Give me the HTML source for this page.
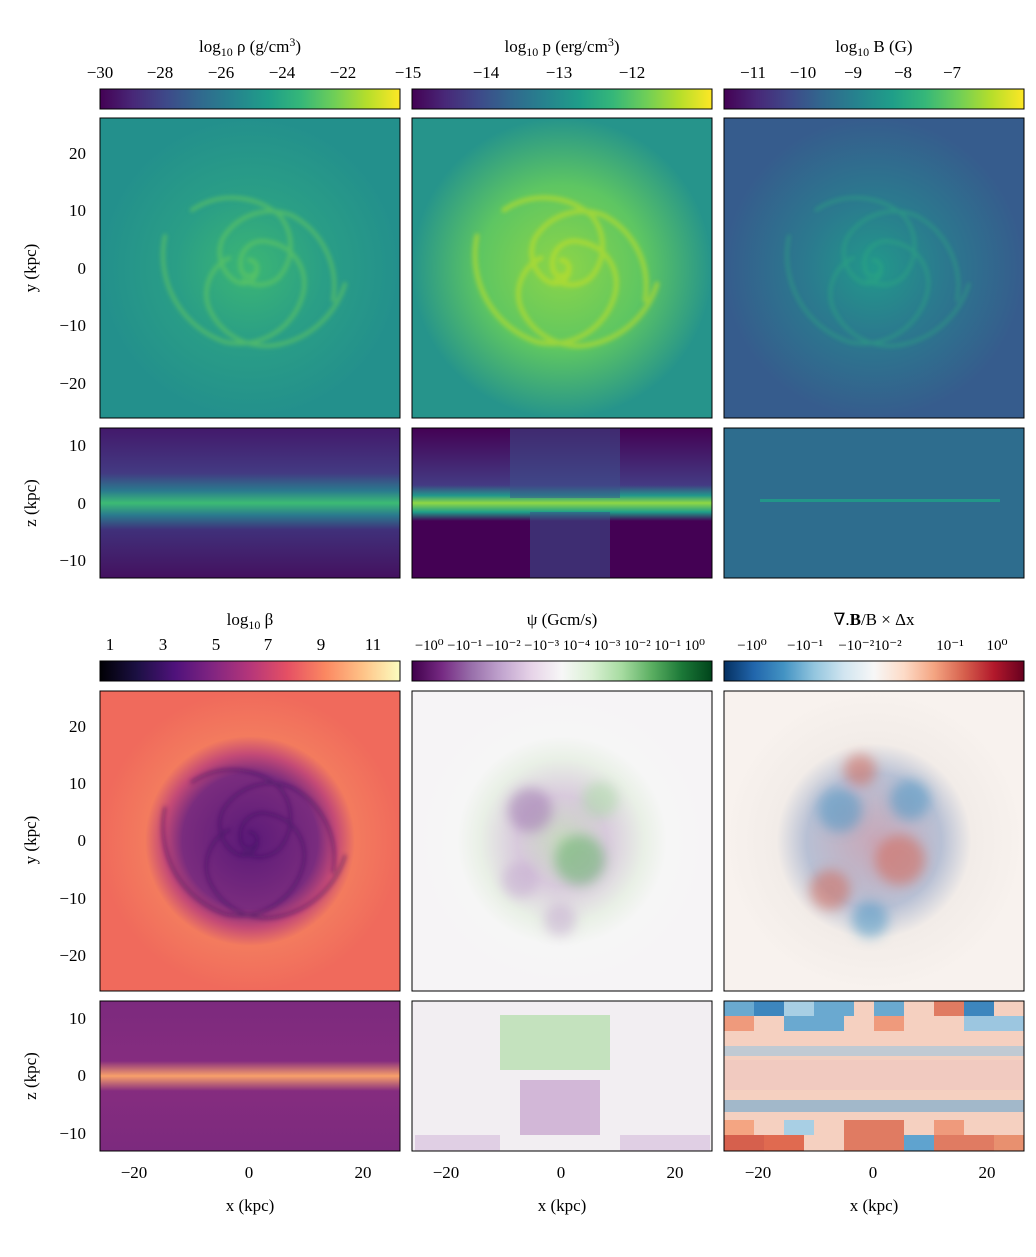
<!DOCTYPE html>
<html><head><meta charset="utf-8"><style>
html,body{margin:0;padding:0;background:#fff;}
svg text{font-family:"Liberation Serif","DejaVu Serif",serif;fill:#000;}
</style></head><body>
<svg width="1036" height="1252" viewBox="0 0 1036 1252" xmlns="http://www.w3.org/2000/svg">
<defs>
<filter id="bl" x="-20%" y="-20%" width="140%" height="140%"><feGaussianBlur stdDeviation="2"/></filter>
<filter id="bl6" x="-30%" y="-30%" width="160%" height="160%"><feGaussianBlur stdDeviation="6"/></filter>
<linearGradient id="vir" x1="0" x2="1"><stop offset="0" stop-color="#440154"/><stop offset=".11" stop-color="#482878"/><stop offset=".22" stop-color="#3e4989"/><stop offset=".33" stop-color="#31688e"/><stop offset=".44" stop-color="#26828e"/><stop offset=".56" stop-color="#1f9e89"/><stop offset=".67" stop-color="#35b779"/><stop offset=".78" stop-color="#6ece58"/><stop offset=".89" stop-color="#b5de2b"/><stop offset="1" stop-color="#fde725"/></linearGradient>
<linearGradient id="mag" x1="0" x2="1"><stop offset="0" stop-color="#000004"/><stop offset=".125" stop-color="#1c1044"/><stop offset=".25" stop-color="#4f127b"/><stop offset=".375" stop-color="#812581"/><stop offset=".5" stop-color="#b5367a"/><stop offset=".625" stop-color="#e55064"/><stop offset=".75" stop-color="#fb8761"/><stop offset=".875" stop-color="#fec287"/><stop offset="1" stop-color="#fcfdbf"/></linearGradient>
<linearGradient id="prgn" x1="0" x2="1"><stop offset="0" stop-color="#40004b"/><stop offset=".1" stop-color="#762a83"/><stop offset=".2" stop-color="#9970ab"/><stop offset=".3" stop-color="#c2a5cf"/><stop offset=".4" stop-color="#e7d4e8"/><stop offset=".5" stop-color="#f7f7f7"/><stop offset=".6" stop-color="#d9f0d3"/><stop offset=".7" stop-color="#a6dba0"/><stop offset=".8" stop-color="#5aae61"/><stop offset=".9" stop-color="#1b7837"/><stop offset="1" stop-color="#00441b"/></linearGradient>
<linearGradient id="rdbu" x1="0" x2="1"><stop offset="0" stop-color="#053061"/><stop offset=".1" stop-color="#2166ac"/><stop offset=".2" stop-color="#4393c3"/><stop offset=".3" stop-color="#92c5de"/><stop offset=".4" stop-color="#d1e5f0"/><stop offset=".5" stop-color="#f7f7f7"/><stop offset=".6" stop-color="#fddbc7"/><stop offset=".7" stop-color="#f4a582"/><stop offset=".8" stop-color="#d6604d"/><stop offset=".9" stop-color="#b2182b"/><stop offset="1" stop-color="#67001f"/></linearGradient>
<radialGradient id="g1"><stop offset="0" stop-color="#3cb674"/><stop offset=".5" stop-color="#2a9e86"/><stop offset="1" stop-color="#23908c"/></radialGradient>
<radialGradient id="g2"><stop offset="0" stop-color="#8cd548"/><stop offset=".55" stop-color="#5ec662"/><stop offset="1" stop-color="#26948b"/></radialGradient>
<radialGradient id="g3"><stop offset="0" stop-color="#22988a"/><stop offset=".45" stop-color="#2b7a8e"/><stop offset="1" stop-color="#365c8d"/></radialGradient>
<radialGradient id="g4"><stop offset="0" stop-color="#5c1a78"/><stop offset=".45" stop-color="#7a2c7e"/><stop offset=".58" stop-color="#c44a76"/><stop offset=".7" stop-color="#f37b5e"/><stop offset="1" stop-color="#f06a5c"/></radialGradient>
<radialGradient id="g5"><stop offset="0" stop-color="#c8d8c0"/><stop offset=".3" stop-color="#d8cadc"/><stop offset=".55" stop-color="#e9f0e6"/><stop offset=".7" stop-color="#f6f6f6"/><stop offset="1" stop-color="#f6f4f6"/></radialGradient>
<radialGradient id="g6"><stop offset="0" stop-color="#c8a8b8"/><stop offset=".45" stop-color="#b8c0d4"/><stop offset=".65" stop-color="#f2ece8"/><stop offset="1" stop-color="#f8f2ee"/></radialGradient>
<linearGradient id="e1" x1="0" y1="0" x2="0" y2="1"><stop offset="0" stop-color="#43196b"/><stop offset=".3" stop-color="#433a82"/><stop offset=".42" stop-color="#2a7b8e"/><stop offset=".5" stop-color="#3cbb74"/><stop offset=".58" stop-color="#2a7b8e"/><stop offset=".68" stop-color="#40307a"/><stop offset="1" stop-color="#44115f"/></linearGradient>
<linearGradient id="e2" x1="0" y1="0" x2="0" y2="1"><stop offset="0" stop-color="#440154"/><stop offset=".38" stop-color="#443a83"/><stop offset=".45" stop-color="#22978b"/><stop offset=".5" stop-color="#8fd744"/><stop offset=".56" stop-color="#1f9e89"/><stop offset=".62" stop-color="#440154"/><stop offset="1" stop-color="#440154"/></linearGradient>
<linearGradient id="e4" x1="0" y1="0" x2="0" y2="1"><stop offset="0" stop-color="#7c2a7e"/><stop offset=".4" stop-color="#852c7f"/><stop offset=".5" stop-color="#f8a06a"/><stop offset=".6" stop-color="#852c7f"/><stop offset="1" stop-color="#7c2a7e"/></linearGradient>
<g id="spir" fill="none" stroke-linecap="round">
<path d="M0 0 m0 -8 a8 8 0 1 1 -8 8 a22 22 0 0 1 28 -26 a42 42 0 0 1 34 52 a66 66 0 0 1 -78 48 a92 92 0 0 1 -60 -106"/>
<path d="M0 0 m8 0 a14 14 0 0 1 -20 14 a34 34 0 0 1 -14 -44 a56 56 0 0 1 70 -22 a80 80 0 0 1 40 84"/>
<path d="M0 0 m-5 12 a28 28 0 0 0 36 -4 a48 48 0 0 0 0 -60 a72 72 0 0 0 -88 -6"/>
<path d="M0 0 m-20 -10 a40 40 0 0 0 -20 50 a62 62 0 0 0 72 36 a88 88 0 0 0 64 -60"/>
</g>
</defs>

<!-- top colorbars -->
<rect x="100" y="89" width="300" height="20" fill="url(#vir)" stroke="#000"/>
<rect x="412" y="89" width="300" height="20" fill="url(#vir)" stroke="#000"/>
<rect x="724" y="89" width="300" height="20" fill="url(#vir)" stroke="#000"/>
<g font-size="17" text-anchor="middle">
<text x="250" y="52">log<tspan font-size="12" dy="4">10</tspan><tspan dy="-4"> ρ (g/cm</tspan><tspan font-size="12" dy="-6">3</tspan><tspan dy="6">)</tspan></text>
<text x="562" y="52">log<tspan font-size="12" dy="4">10</tspan><tspan dy="-4"> p (erg/cm</tspan><tspan font-size="12" dy="-6">3</tspan><tspan dy="6">)</tspan></text>
<text x="874" y="52">log<tspan font-size="12" dy="4">10</tspan><tspan dy="-4"> B (G)</tspan></text>
<text x="100" y="78">−30</text><text x="160" y="78">−28</text><text x="221" y="78">−26</text><text x="282" y="78">−24</text><text x="343" y="78">−22</text><text x="408" y="78">−15</text>
<text x="486" y="78">−14</text><text x="559" y="78">−13</text><text x="632" y="78">−12</text>
<text x="753" y="78">−11</text><text x="803" y="78">−10</text><text x="853" y="78">−9</text><text x="903" y="78">−8</text><text x="952" y="78">−7</text>
</g>

<!-- top face-on -->
<rect x="100" y="118" width="300" height="300" fill="url(#g1)"/>
<rect x="412" y="118" width="300" height="300" fill="url(#g2)"/>
<rect x="724" y="118" width="300" height="300" fill="url(#g3)"/>
<use href="#spir" x="249" y="268" stroke="#6ccd5a" stroke-width="4" opacity=".55" filter="url(#bl)"/>
<use href="#spir" x="561" y="268" stroke="#c8e020" stroke-width="5" opacity=".55" filter="url(#bl)"/>
<use href="#spir" x="873" y="268" stroke="#2fb37b" stroke-width="3" opacity=".45" filter="url(#bl)"/>
<rect x="100" y="118" width="300" height="300" fill="none" stroke="#000"/>
<rect x="412" y="118" width="300" height="300" fill="none" stroke="#000"/>
<rect x="724" y="118" width="300" height="300" fill="none" stroke="#000"/>

<!-- top edge-on -->
<rect x="100" y="428" width="300" height="150" fill="url(#e1)" stroke="#000"/>
<rect x="412" y="428" width="300" height="150" fill="url(#e2)"/>
<rect x="510" y="428" width="110" height="70" fill="#3b528b" opacity=".5"/>
<rect x="530" y="512" width="80" height="66" fill="#3b528b" opacity=".55"/>
<rect x="412" y="428" width="300" height="150" fill="none" stroke="#000"/>
<rect x="724" y="428" width="300" height="150" fill="#2e6d8e" stroke="#000"/>
<rect x="760" y="499" width="240" height="3" fill="#1fa088" opacity=".8"/>
<g font-size="17" text-anchor="end">
<text x="86" y="159">20</text><text x="86" y="216">10</text><text x="86" y="274">0</text><text x="86" y="331">−10</text><text x="86" y="389">−20</text>
<text x="86" y="451">10</text><text x="86" y="509">0</text><text x="86" y="566">−10</text>
<text x="86" y="732">20</text><text x="86" y="789">10</text><text x="86" y="846">0</text><text x="86" y="904">−10</text><text x="86" y="961">−20</text>
<text x="86" y="1024">10</text><text x="86" y="1081">0</text><text x="86" y="1139">−10</text>
</g>
<g font-size="17" text-anchor="middle">
<text transform="translate(36 268) rotate(-90)">y (kpc)</text>
<text transform="translate(36 503) rotate(-90)">z (kpc)</text>
<text transform="translate(36 840) rotate(-90)">y (kpc)</text>
<text transform="translate(36 1076) rotate(-90)">z (kpc)</text>
</g>

<!-- bottom colorbars -->
<rect x="100" y="661" width="300" height="20" fill="url(#mag)" stroke="#000"/>
<rect x="412" y="661" width="300" height="20" fill="url(#prgn)" stroke="#000"/>
<rect x="724" y="661" width="300" height="20" fill="url(#rdbu)" stroke="#000"/>
<g font-size="17" text-anchor="middle">
<text x="250" y="625">log<tspan font-size="12" dy="4">10</tspan><tspan dy="-4"> β</tspan></text>
<text x="562" y="625">ψ (Gcm/s)</text>
<text x="874" y="625">∇.<tspan font-weight="bold">B</tspan>/B × Δx</text>
<text x="110" y="650">1</text><text x="163" y="650">3</text><text x="216" y="650">5</text><text x="268" y="650">7</text><text x="321" y="650">9</text><text x="373" y="650">11</text>
<text x="560" y="650" font-size="15" textLength="290" lengthAdjust="spacingAndGlyphs">−10⁰ −10⁻¹ −10⁻² −10⁻³ 10⁻⁴ 10⁻³ 10⁻² 10⁻¹ 10⁰</text>
<text x="752" y="650" font-size="15">−10⁰</text><text x="805" y="650" font-size="15">−10⁻¹</text><text x="870" y="650" font-size="15">−10⁻²10⁻²</text><text x="950" y="650" font-size="15">10⁻¹</text><text x="997" y="650" font-size="15">10⁰</text>
</g>

<!-- bottom face-on -->
<rect x="100" y="691" width="300" height="300" fill="url(#g4)"/>
<use href="#spir" x="249" y="840" stroke="#3a0f60" stroke-width="3" opacity=".5" filter="url(#bl)"/>
<rect x="412" y="691" width="300" height="300" fill="url(#g5)"/>
<rect x="724" y="691" width="300" height="300" fill="url(#g6)"/>
<g opacity=".5" filter="url(#bl6)">
<circle cx="530" cy="810" r="22" fill="#9970ab"/><circle cx="580" cy="860" r="25" fill="#5aae61"/><circle cx="520" cy="880" r="18" fill="#c2a5cf"/><circle cx="600" cy="800" r="18" fill="#a6dba0"/><circle cx="560" cy="920" r="16" fill="#c2a5cf"/>
<circle cx="840" cy="810" r="22" fill="#4393c3"/><circle cx="900" cy="860" r="25" fill="#d6604d"/><circle cx="830" cy="890" r="20" fill="#d6604d"/><circle cx="910" cy="800" r="20" fill="#4393c3"/><circle cx="870" cy="920" r="18" fill="#4393c3"/><circle cx="860" cy="770" r="16" fill="#d6604d"/>
</g>
<rect x="100" y="691" width="300" height="300" fill="none" stroke="#000"/>
<rect x="412" y="691" width="300" height="300" fill="none" stroke="#000"/>
<rect x="724" y="691" width="300" height="300" fill="none" stroke="#000"/>

<!-- bottom edge-on -->
<rect x="100" y="1001" width="300" height="150" fill="url(#e4)" stroke="#000"/>
<rect x="412" y="1001" width="300" height="150" fill="#f2eef2"/>
<rect x="500" y="1015" width="110" height="55" fill="#b8deb0" opacity=".8"/>
<rect x="520" y="1080" width="80" height="55" fill="#c9a9d0" opacity=".8"/>
<rect x="415" y="1135" width="85" height="16" fill="#e0cfe4"/>
<rect x="620" y="1135" width="90" height="16" fill="#e0cfe4"/>
<rect x="412" y="1001" width="300" height="150" fill="none" stroke="#000"/>
<rect x="724" y="1001" width="300" height="150" fill="#f5d0c0"/>
<g>
<rect x="724" y="1001" width="30" height="15" fill="#6aa9d0"/><rect x="754" y="1001" width="30" height="15" fill="#3d86be"/><rect x="784" y="1001" width="30" height="15" fill="#a8cfe4"/><rect x="814" y="1001" width="40" height="15" fill="#6aa9d0"/><rect x="874" y="1001" width="30" height="15" fill="#6aa9d0"/><rect x="934" y="1001" width="30" height="15" fill="#e07b62"/><rect x="964" y="1001" width="30" height="15" fill="#3d86be"/>
<rect x="724" y="1016" width="30" height="15" fill="#ef9a7c"/><rect x="784" y="1016" width="60" height="15" fill="#6aa9d0"/><rect x="874" y="1016" width="30" height="15" fill="#ef9a7c"/><rect x="964" y="1016" width="60" height="15" fill="#9cc6e0"/>
<rect x="724" y="1046" width="300" height="10" fill="#9cc6e0" opacity=".6"/>
<rect x="724" y="1060" width="300" height="30" fill="#f0c8c0" opacity=".7"/>
<rect x="724" y="1100" width="300" height="12" fill="#6aa9d0" opacity=".6"/>
<rect x="724" y="1135" width="40" height="16" fill="#d6604d"/><rect x="764" y="1135" width="40" height="16" fill="#e06a50"/><rect x="844" y="1120" width="60" height="31" fill="#e07b62"/><rect x="904" y="1135" width="30" height="16" fill="#5fa3cf"/><rect x="934" y="1135" width="60" height="16" fill="#e07b62"/><rect x="994" y="1135" width="30" height="16" fill="#e8906f"/>
<rect x="724" y="1120" width="30" height="15" fill="#f4a582"/><rect x="784" y="1120" width="30" height="15" fill="#a8cfe4"/><rect x="934" y="1120" width="30" height="15" fill="#ef9a7c"/>
</g>
<rect x="724" y="1001" width="300" height="150" fill="none" stroke="#000"/>

<!-- x ticks -->
<g font-size="17" text-anchor="middle">
<text x="134" y="1178">−20</text><text x="249" y="1178">0</text><text x="363" y="1178">20</text>
<text x="446" y="1178">−20</text><text x="561" y="1178">0</text><text x="675" y="1178">20</text>
<text x="758" y="1178">−20</text><text x="873" y="1178">0</text><text x="987" y="1178">20</text>
<text x="250" y="1211">x (kpc)</text><text x="562" y="1211">x (kpc)</text><text x="874" y="1211">x (kpc)</text>
</g>
</svg>
</body></html>
